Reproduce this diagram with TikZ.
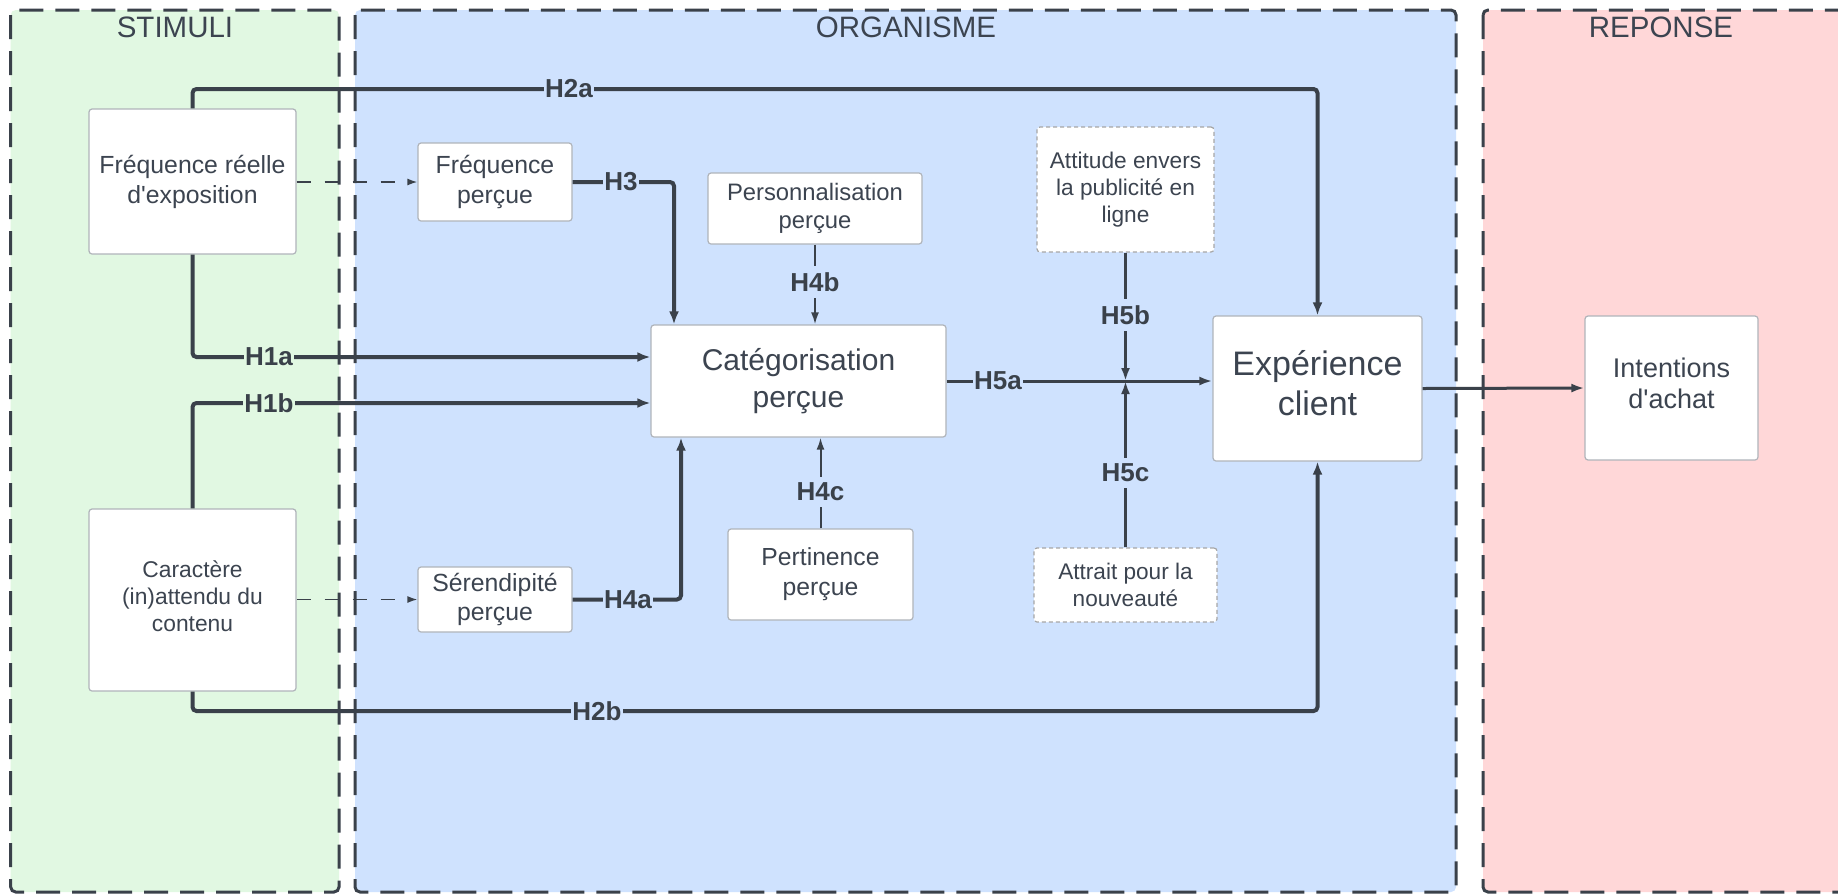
\documentclass[tikz,border=0pt]{standalone}
\usepackage{fontspec}
\setmainfont{Liberation Sans}
\usetikzlibrary{arrows.meta}
\definecolor{ink}{HTML}{3A414A}
\definecolor{txt}{HTML}{3C4450}
\definecolor{gfill}{HTML}{E1F8E2}
\definecolor{bfill}{HTML}{CFE2FE}
\definecolor{pfill}{HTML}{FFD7D8}
\definecolor{boxline}{HTML}{B0B4BA}
\tikzset{
  panel/.style={draw=ink, line width=3pt, dash pattern=on 24pt off 12pt, rounded corners=5pt},
  ptitle/.style={text=txt, font=\fontsize{29.5}{33}\selectfont, inner sep=0pt},
  box/.style={draw=boxline, fill=white, line width=1.2pt, rounded corners=3pt, text=txt, align=center, inner sep=2pt},
  dbox/.style={box, draw=gray!70, dash pattern=on 4pt off 3pt},
  hlab/.style={text=ink, font=\bfseries\fontsize{26}{30}\selectfont, inner sep=1.5pt},
  thick line/.style={draw=ink, line width=4pt, rounded corners=4pt, -{Latex[length=13pt,width=10pt]}},
  mid line/.style={draw=ink, line width=3pt, -{Latex[length=13pt,width=9pt]}},
  thin line/.style={draw=ink, line width=2pt, -{Latex[length=12pt,width=8pt]}},
  dash line/.style={draw=ink, line width=1.5pt, dash pattern=on 14pt off 14pt, -{Latex[length=10pt,width=7pt]}},
}
\begin{document}
\begin{tikzpicture}[x=1pt,y=-1pt]
\clip (0,0) rectangle (1838,895);
\fill[white] (0,0) rectangle (1838,895);
% panels
\draw[panel, fill=gfill] (10.7,10) rectangle (339,892);
\draw[panel, fill=bfill] (355,10) rectangle (1456,892);
\draw[panel, fill=pfill] (1483,10) rectangle (1870,892);
\node[ptitle] (tS) at (175,27) {STIMULI};
\node[ptitle] (tO) at (906,27) {ORGANISME};
\node[ptitle] (tR) at (1661,27) {REPONSE};

% nodes
\node[box, minimum width=207pt, minimum height=145pt, font=\fontsize{24.8}{30}\selectfont] (freqR) at (192.5,181.5) {Fréquence réelle\\d\textquotesingle exposition};
\node[box, minimum width=154pt, minimum height=78pt, font=\fontsize{24.8}{30}\selectfont] (freqP) at (495,182) {Fréquence\\perçue};
\node[box, minimum width=214pt, minimum height=71pt, font=\fontsize{23.8}{28}\selectfont] (persP) at (815,208.5) {Personnalisation\\perçue};
\node[dbox, minimum width=177pt, minimum height=125pt, font=\fontsize{22.7}{27}\selectfont] (attA) at (1125.5,189.5) {Attitude envers\\la publicité en\\ligne};
\node[box, minimum width=295pt, minimum height=112pt, font=\fontsize{30}{37}\selectfont] (catP) at (798.5,381) {Catégorisation\\perçue};
\node[box, minimum width=209pt, minimum height=145pt, text depth=12pt, font=\fontsize{34}{40}\selectfont] (expC) at (1317.5,388.5) {Expérience\\client};
\node[box, minimum width=173pt, minimum height=144pt, text depth=10pt, font=\fontsize{27}{31}\selectfont] (intA) at (1671.5,388) {Intentions\\d\textquotesingle achat};
\node[box, minimum width=207pt, minimum height=182pt, text depth=7pt, font=\fontsize{22.8}{27}\selectfont] (carC) at (192.5,600) {Caractère\\(in)attendu du\\contenu};
\node[box, minimum width=154pt, minimum height=65pt, font=\fontsize{24.8}{29}\selectfont] (serP) at (495,599.5) {Sérendipité\\perçue};
\node[box, minimum width=185pt, minimum height=91pt, font=\fontsize{24.7}{30}\selectfont] (pertP) at (820.5,574.5) {Pertinence\\perçue};
\node[dbox, minimum width=183pt, minimum height=74pt, font=\fontsize{22.6}{27}\selectfont] (attN) at (1125.5,585) {Attrait pour la\\nouveauté};

% helper coordinates
\coordinate (h2a) at (192.5,89);
\coordinate (h1a) at (192.5,357);
\coordinate (h1b) at (192.5,403);
\coordinate (h2b) at (192.5,711);
\coordinate (h3c) at (674,182);
\coordinate (h4ac) at (681,599.5);

% dashed links
\draw[dash line] (freqR.east |- freqP.west) -- (freqP.west);
\draw[dash line] (carC.east |- serP.west) -- (serP.west);

% thick links
\draw[thick line] (freqR.north) -- (h2a) -| (expC.north);
\draw[thick line] (freqR.south) -- (h1a) -- (h1a -| catP.west);
\draw[thick line] (carC.north) -- (h1b) -- (h1b -| catP.west);
\draw[thick line] (carC.south) -- (h2b) -| (expC.south);
\draw[thick line] (freqP.east) -- (h3c) -- (h3c |- catP.north);
\draw[thick line] (serP.east) -- (h4ac) -- (h4ac |- catP.south);

% thin links
\draw[thin line] (persP.south) -- (persP.south |- catP.north);
\draw[thin line] (pertP.north) -- (pertP.north |- catP.south);

% H5 links
\draw[mid line] (catP.east) -- (catP.east -| expC.west);
\draw[mid line] (attA.south) -- (attA.south |- catP.east);
\draw[mid line] (attN.north) -- (attN.north |- catP.east);
\draw[mid line] (expC.east) -- (intA.west);

% labels
\node[hlab, fill=bfill] (lH2a) at (569,89) {H2a};
\node[hlab, fill=gfill] (lH1a) at (269,357) {H1a};
\node[hlab, fill=gfill] (lH1b) at (269,403) {H1b};
\node[hlab, fill=bfill] (lH2b) at (597,711) {H2b};
\node[hlab, fill=bfill] (lH3) at (621,182) {H3};
\node[hlab, fill=bfill] (lH4a) at (628,599.5) {H4a};
\node[hlab, fill=bfill, inner sep=6pt] (lH4b) at (815,282) {H4b};
\node[hlab, fill=bfill, inner sep=6pt] (lH4c) at (820.5,492) {H4c};
\node[hlab, fill=bfill] (lH5a) at (998,381) {H5a};
\node[hlab, fill=bfill, inner sep=6pt] (lH5b) at (1125.5,315) {H5b};
\node[hlab, fill=bfill, inner sep=6pt] (lH5c) at (1125.5,473) {H5c};
\end{tikzpicture}
\end{document}
